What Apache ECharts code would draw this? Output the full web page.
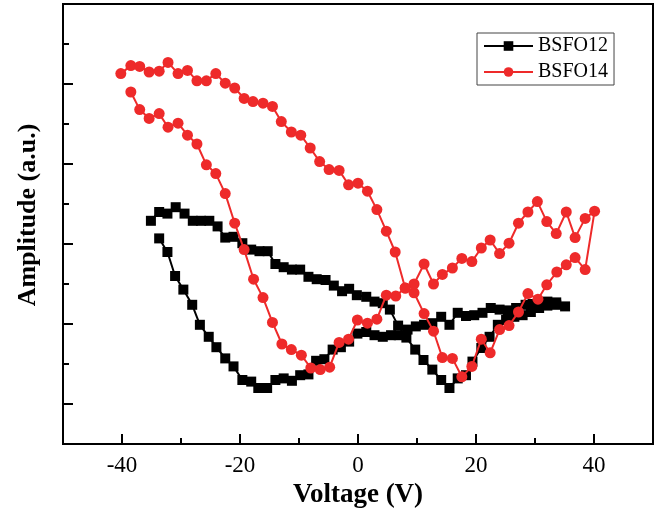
<!DOCTYPE html>
<html>
<head>
<meta charset="utf-8">
<script src="https://cdn.jsdelivr.net/npm/echarts@6/dist/echarts.min.js"></script>
<style>
html,body{margin:0;padding:0;background:#fff;}
#chart{width:658px;height:517px;}
</style>
</head>
<body>
<div id="chart"></div>
<script>
// ---- data ----
const seriesNames = ['BSFO12', 'BSFO14'];
const xTickValues = [-40, -20, 0, 20, 40];
const xMinorTickValues = [-30, -10, 10, 30];
const yMajorTickValues = [0, 10, 20, 30, 40];

// BSFO12 (black squares): voltage (V) and amplitude (a.u.), in path order
const bsfo12V = [
  -35.1,-33.7,-32.3,-30.9,-29.4,-28.0,-26.6,-25.2,-23.8,-22.5,
  -21.1,-19.6,-18.1,-16.7,-15.3,-14.0,-12.6,-11.2,-9.8,-8.4,
  -7.0,-5.5,-4.1,-2.7,-1.5,-0.2,1.4,2.8,4.2,5.4,
  6.8,8.2,9.7,11.1,12.6,14.1,15.5,16.9,18.3,19.4,
  20.9,22.3,23.7,25.1,26.5,27.9,29.3,30.7,32.1,33.6,35.1,
  33.6,32.1,30.7,29.6,28.4,26.8,25.4,24.0,22.5,21.1,
  19.7,18.3,16.9,15.5,14.1,12.6,11.2,9.8,8.4,6.9,
  5.6,4.2,2.8,1.4,-0.1,-1.5,-2.9,-4.3,-5.7,-7.1,
  -8.4,-9.8,-11.2,-12.6,-14.0,-15.4,-16.9,-18.1,-19.6,-21.1,
  -22.5,-24.0,-25.3,-26.8,-28.1,-29.6,-31.0,-32.3,-33.7
];
const bsfo12A = [
  22.9,24.0,23.8,24.6,23.8,22.9,22.9,22.9,22.2,20.8,
  20.9,20.1,19.3,19.1,19.1,17.5,17.1,16.8,16.8,15.9,
  15.6,15.5,14.8,14.1,14.4,13.6,13.4,12.8,12.6,11.8,
  9.8,8.3,6.8,5.5,4.3,3.0,2.0,3.2,3.6,5.3,
  7.0,8.4,9.9,10.5,10.9,11.1,11.5,12.0,12.3,12.4,12.2,
  12.7,12.8,12.6,12.5,12.4,12.0,11.7,11.8,12.0,11.4,
  11.1,11.0,11.4,9.9,10.9,10.1,9.9,9.7,9.3,8.6,
  8.6,8.4,8.6,9.0,8.8,7.8,7.1,6.8,5.6,5.4,
  3.7,3.6,2.9,3.2,3.0,2.0,2.0,2.8,3.0,4.7,
  5.7,7.1,8.4,9.9,12.4,14.3,16.0,19.0,20.7
];

// BSFO14 (red circles): voltage (V) and amplitude (a.u.), in path order
const bsfo14V = [
  -40.2,-38.5,-37.0,-35.4,-33.7,-32.2,-30.5,-28.9,-27.3,-25.7,
  -24.1,-22.5,-20.9,-19.3,-17.8,-16.1,-14.5,-13.0,-11.3,-9.7,
  -8.1,-6.5,-4.9,-3.2,-1.6,0.0,1.6,3.2,4.8,6.3,
  8.0,9.5,11.2,12.8,14.3,16.0,17.6,19.3,20.9,22.4,
  24.0,25.6,27.2,28.8,30.5,32.0,33.7,35.3,36.8,38.5,40.1,
  38.5,36.8,35.3,33.6,32.0,30.4,28.8,27.2,25.6,24.0,
  22.4,20.9,19.3,17.6,16.0,14.3,12.8,11.2,9.5,8.0,
  6.4,4.8,3.2,1.6,-0.1,-1.6,-3.2,-4.8,-6.4,-8.0,
  -9.6,-11.3,-12.9,-14.5,-16.1,-17.7,-19.3,-20.9,-22.5,-24.1,
  -25.7,-27.3,-28.9,-30.5,-32.2,-33.7,-35.4,-37.0,-38.5
];
const bsfo14A = [
  41.3,42.3,42.2,41.5,41.6,42.7,41.3,41.7,40.4,40.4,
  41.3,40.1,39.5,38.2,37.8,37.6,37.2,35.3,34.0,33.6,
  32.0,30.3,29.3,29.2,27.4,27.6,26.6,24.3,21.6,19.0,
  14.5,13.9,11.3,9.1,5.8,5.7,3.4,4.7,8.1,6.4,
  9.3,9.8,11.5,13.8,13.1,14.9,16.5,17.4,18.3,16.8,24.1,
  23.2,20.8,24.0,21.3,22.8,25.3,24.0,22.6,20.1,18.8,
  20.5,19.5,17.8,18.2,17.0,16.2,15.0,17.5,15.0,14.5,
  13.5,13.6,10.6,10.1,10.5,8.1,7.7,4.6,4.3,4.5,
  6.1,6.8,7.5,10.2,13.3,15.6,19.3,22.6,26.3,28.8,
  29.9,32.5,33.6,35.1,34.6,36.3,35.7,36.8,39.0
];

// ---- chart ----
const FONT = "'Liberation Serif', 'Times New Roman', serif";
const zip = (xs, ys) => xs.map((v, i) => [v, ys[i]]);

const chart = echarts.init(document.getElementById('chart'), null, {renderer: 'canvas'});
const axisLineStyle = {color: '#000', width: 2};

chart.setOption({
  animation: false,
  backgroundColor: '#fff',
  grid: {left: 63, right: 5, top: 4, bottom: 73, show: true, borderColor: '#000', borderWidth: 2, containLabel: false},
  legend: {
    orient: 'vertical',
    left: 477, top: 33,
    padding: [3, 6, 3, 6],
    itemGap: 6,
    itemWidth: 49, itemHeight: 12,
    borderColor: '#444', borderWidth: 1,
    textStyle: {fontFamily: FONT, fontSize: 20, color: '#000'},
    data: seriesNames
  },
  xAxis: [
    {
      type: 'value', min: -50, max: 50, interval: 10, position: 'bottom',
      name: 'Voltage (V)', nameLocation: 'middle', nameGap: 38,
      nameTextStyle: {fontFamily: FONT, fontSize: 27, fontWeight: 'bold', color: '#000'},
      axisLine: {show: true, onZero: false, lineStyle: axisLineStyle},
      axisTick: {show: true, inside: true, length: 6, lineStyle: axisLineStyle},
      axisLabel: {
        show: true, margin: 10, color: '#000', fontFamily: FONT, fontSize: 23,
        formatter: v => (xTickValues.indexOf(v) >= 0 ? String(v) : '')
      },
      splitLine: {show: false}
    },
    {
      type: 'value', min: -50, max: 50, position: 'bottom',
      axisLine: {show: false, onZero: false},
      axisTick: {show: true, inside: true, length: 10, lineStyle: axisLineStyle, customValues: xTickValues},
      axisLabel: {show: false},
      splitLine: {show: false}
    }
  ],
  yAxis: [
    {
      type: 'value', min: -5, max: 50, interval: 5, position: 'left',
      name: 'Amplitude (a.u.)', nameLocation: 'middle', nameGap: 22, nameRotate: 90,
      nameTextStyle: {fontFamily: FONT, fontSize: 26, fontWeight: 'bold', color: '#000', padding: [0, 0, 0, 18]},
      axisLine: {show: true, onZero: false, lineStyle: axisLineStyle},
      axisTick: {show: true, inside: true, length: 6, lineStyle: axisLineStyle},
      axisLabel: {show: false},
      splitLine: {show: false}
    },
    {
      type: 'value', min: -5, max: 50, position: 'left',
      axisLine: {show: false, onZero: false},
      axisTick: {show: true, inside: true, length: 10, lineStyle: axisLineStyle, customValues: yMajorTickValues},
      axisLabel: {show: false},
      splitLine: {show: false}
    }
  ],
  series: [
    {
      name: seriesNames[0], type: 'line', xAxisIndex: 0, yAxisIndex: 0,
      data: zip(bsfo12V, bsfo12A),
      symbol: 'rect', symbolSize: 10, showAllSymbol: true,
      itemStyle: {color: '#000'},
      lineStyle: {color: '#000', width: 2},
      z: 2
    },
    {
      name: seriesNames[1], type: 'line', xAxisIndex: 0, yAxisIndex: 0,
      data: zip(bsfo14V, bsfo14A),
      symbol: 'circle', symbolSize: 11, showAllSymbol: true,
      itemStyle: {color: '#EE2A2A'},
      lineStyle: {color: '#EE2A2A', width: 2},
      z: 3
    }
  ]
});
</script>
</body>
</html>
